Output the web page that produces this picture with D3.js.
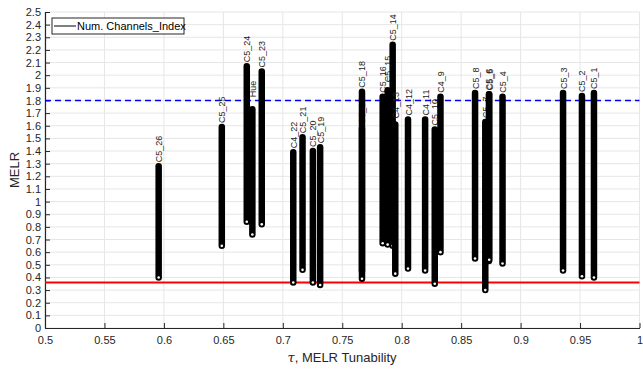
<!DOCTYPE html>
<html>
<head>
<meta charset="utf-8">
<script src="https://cdn.jsdelivr.net/npm/d3@7"></script>
<style>
  body { margin: 0; background: #fff; }
  svg { display: block; font-family: "Liberation Sans", Arial, sans-serif; }
</style>
</head>
<body>
<svg id="chart" width="643" height="369"></svg>
<script>
// channel columns: label, tau position, lowest and highest MELR value
const channelLabels = ['C5_26', 'C5_25', 'C5_24', 'Hue', 'C5_23', 'C4_22', 'C5_21', 'C5_20', 'C5_19',
    'C5_17', 'C5_18', 'C5_16', 'C5_15', 'C5_14', 'C4_13', 'C4_12', 'C4_11', 'C5_10', 'C4_9',
    'C5_8', 'C5_7', 'C5_6', 'C5_5', 'C5_4', 'C5_3', 'C5_2', 'C5_1'];
const channelTau = [0.5956, 0.6487, 0.6697, 0.6744, 0.6823, 0.7088, 0.7166, 0.7253, 0.7314,
    0.7666, 0.7666, 0.7840, 0.7882, 0.7924, 0.7946, 0.8053, 0.8197, 0.8278, 0.8326,
    0.8617, 0.8703, 0.8734, 0.8736, 0.8848, 0.9357, 0.9516, 0.9617];
const channelLo = [0.40, 0.65, 0.84, 0.74, 0.82, 0.36, 0.46, 0.36, 0.34,
    0.45, 0.39, 0.67, 0.66, 0.65, 0.43, 0.47, 0.455, 0.35, 0.60,
    0.55, 0.30, 0.53, 0.54, 0.51, 0.455, 0.41, 0.40];
const channelHi = [1.28, 1.59, 2.07, 1.73, 2.03, 1.39, 1.51, 1.40, 1.43,
    1.58, 1.87, 1.83, 1.88, 2.24, 1.61, 1.65, 1.65, 1.57, 1.83,
    1.86, 1.63, 1.85, 1.85, 1.83, 1.86, 1.835, 1.86];
// extra gap (px) between a column top and its label
const labelGap = [4, 4, 4, 12, 4, 4, 4, 4, 4,
    4, 4, 4, 8, 4, 6, 4, 4, 4, 4,
    4, 4, 4, 4, 4, 4, 4, 4];

const lowerLimit = 0.36;
const upperLimit = 1.8;

const xTicks = [0.5, 0.55, 0.6, 0.65, 0.7, 0.75, 0.8, 0.85, 0.9, 0.95, 1];
const xTickLabels = ['0.5', '0.55', '0.6', '0.65', '0.7', '0.75', '0.8', '0.85', '0.9', '0.95', '1'];
const yTicks = d3.range(0, 26).map(i => i / 10);
const yTickLabels = ['0', '0.1', '0.2', '0.3', '0.4', '0.5', '0.6', '0.7', '0.8', '0.9', '1',
    '1.1', '1.2', '1.3', '1.4', '1.5', '1.6', '1.7', '1.8', '1.9', '2',
    '2.1', '2.2', '2.3', '2.4', '2.5'];

const svg = d3.select('#chart');
const x = d3.scaleLinear().domain([0.5, 1]).range([45, 639.5]);
const y = d3.scaleLinear().domain([0, 2.5]).range([328, 12]);

// grid
svg.append('g')
    .selectAll('line')
    .data(xTicks)
    .enter()
    .append('line')
    .attr('x1', d => x(d)).attr('x2', d => x(d))
    .attr('y1', y(0)).attr('y2', y(2.5))
    .attr('stroke', '#e6e6e6').attr('stroke-width', 1);
svg.append('g')
    .selectAll('line')
    .data(yTicks)
    .enter()
    .append('line')
    .attr('x1', x(0.5)).attr('x2', x(1))
    .attr('y1', d => y(d)).attr('y2', d => y(d))
    .attr('stroke', '#e6e6e6').attr('stroke-width', 1);

// axes
const xAxis = svg.append('g')
    .attr('transform', `translate(0,${y(0)})`)
    .call(d3.axisBottom(x).tickValues(xTicks)
        .tickFormat((d, i) => xTickLabels[i])
        .tickSizeInner(-5).tickSizeOuter(0).tickPadding(8));
const yAxis = svg.append('g')
    .attr('transform', `translate(${x(0.5)},0)`)
    .call(d3.axisLeft(y).tickValues(yTicks)
        .tickFormat((d, i) => yTickLabels[i])
        .tickSizeInner(-5).tickSizeOuter(0).tickPadding(4));
[xAxis, yAxis].forEach(a => {
    a.select('.domain').attr('stroke', '#262626').attr('stroke-width', 1.2);
    a.selectAll('.tick line').attr('stroke', '#262626');
    a.selectAll('text').attr('fill', '#262626').style('font-size', '11px')
        .style('font-family', '"Liberation Sans", Arial, sans-serif');
});

// threshold lines
svg.append('line')
    .attr('x1', x(0.5)).attr('x2', x(1))
    .attr('y1', y(lowerLimit)).attr('y2', y(lowerLimit))
    .attr('stroke', '#ff0000').attr('stroke-width', 2);
svg.append('line')
    .attr('x1', x(0.5)).attr('x2', x(1))
    .attr('y1', y(upperLimit)).attr('y2', y(upperLimit))
    .attr('stroke', '#0000ff').attr('stroke-width', 1.6)
    .attr('stroke-dasharray', '6,4');

// channel columns
const channels = channelLabels.map((label, i) => ({
    label: label, tau: channelTau[i], lo: channelLo[i], hi: channelHi[i], gap: labelGap[i]
}));

const col = svg.append('g')
    .selectAll('.channel')
    .data(channels)
    .enter()
    .append('g')
    .attr('class', 'channel');

col.append('line')
    .attr('x1', d => x(d.tau)).attr('x2', d => x(d.tau))
    .attr('y1', d => y(d.hi)).attr('y2', d => y(d.lo))
    .attr('stroke', '#000').attr('stroke-width', 6.5)
    .attr('stroke-linecap', 'round');
// small open marker at the lowest point
col.append('circle')
    .attr('cx', d => x(d.tau)).attr('cy', d => y(d.lo))
    .attr('r', 1.3).attr('fill', '#fff');

// rotated labels above each column
col.append('text')
    .attr('transform', d => `translate(${x(d.tau) + 3.5},${y(d.hi) - d.gap}) rotate(-90)`)
    .attr('fill', '#222')
    .style('font-size', '9px')
    .text(d => d.label);

// axis titles
svg.append('text')
    .attr('transform', 'translate(19,170) rotate(-90)')
    .attr('text-anchor', 'middle')
    .attr('fill', '#262626')
    .style('font-size', '13px')
    .text('MELR');
const xt = svg.append('text')
    .attr('x', 342).attr('y', 362)
    .attr('text-anchor', 'middle')
    .attr('fill', '#262626')
    .style('font-size', '13px');
xt.append('tspan').style('font-style', 'italic').style('font-family', '"DejaVu Serif", serif').text('τ');
xt.append('tspan').text(', MELR Tunability');

// legend
const legend = svg.append('g').attr('transform', 'translate(52,18)');
legend.append('rect')
    .attr('width', 132).attr('height', 16)
    .attr('fill', '#fff').attr('stroke', '#262626').attr('stroke-width', 1);
legend.append('line')
    .attr('x1', 2).attr('x2', 24).attr('y1', 8).attr('y2', 8)
    .attr('stroke', '#000').attr('stroke-width', 1);
legend.append('text')
    .attr('x', 25).attr('y', 12)
    .attr('fill', '#000')
    .style('font-size', '11px')
    .text('Num. Channels_Index');
</script>
</body>
</html>
